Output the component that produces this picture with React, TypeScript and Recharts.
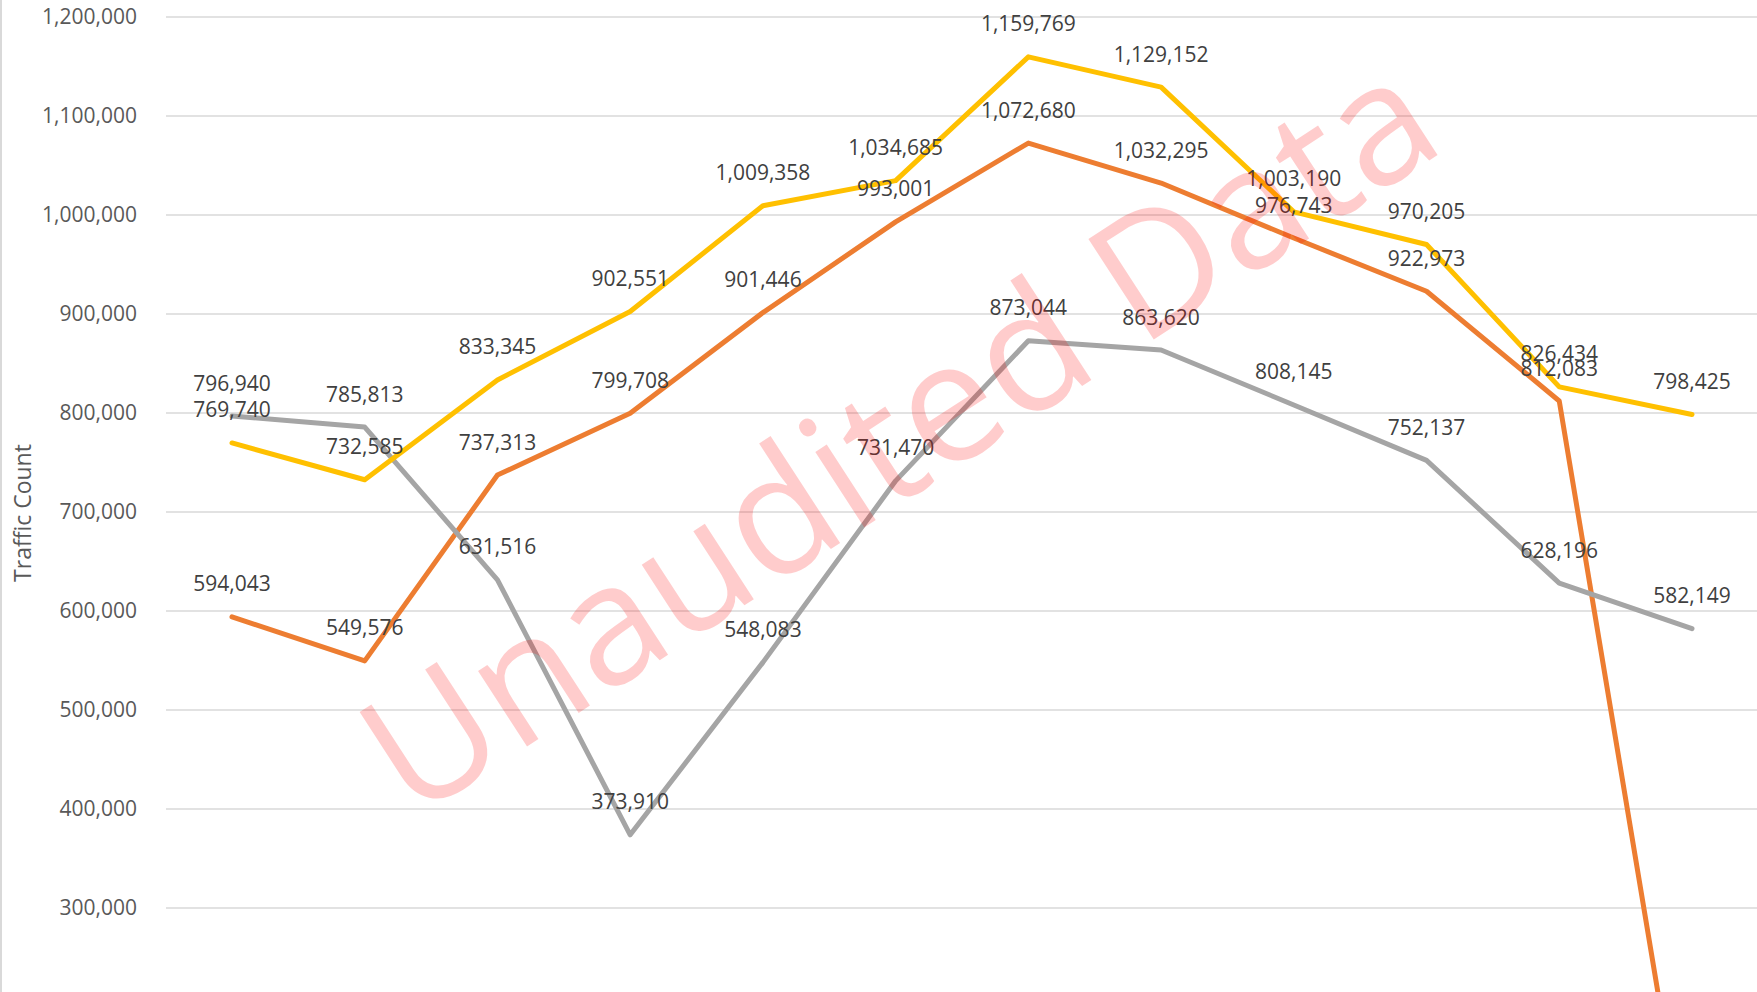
import React from 'react';
import { LineChart, Line, YAxis, XAxis, CartesianGrid } from 'recharts';

// monthly traffic counts, three series (x axis labels are cropped out of the picture)
const months = ['Jan', 'Feb', 'Mar', 'Apr', 'May', 'Jun', 'Jul', 'Aug', 'Sep', 'Oct', 'Nov', 'Dec'];
const yellowSeries = [769740, 732585, 833345, 902551, 1009358, 1034685, 1159769, 1129152, 1003190, 970205, 826434, 798425];
const orangeSeries = [594043, 549576, 737313, 799708, 901446, 993001, 1072680, 1032295, 976743, 922973, 812083, 8300];
const graySeries = [796940, 785813, 631516, 373910, 548083, 731470, 873044, 863620, 808145, 752137, 628196, 582149];
const yTicks = [0, 100000, 200000, 300000, 400000, 500000, 600000, 700000, 800000, 900000, 1000000, 1100000, 1200000];

const data = months.map((m, i) => ({
  month: m,
  yellow: yellowSeries[i],
  orange: orangeSeries[i],
  gray: graySeries[i],
}));

const FONT = '"Open Sans", "Noto Sans", sans-serif';
const fmt = (v: number) => Number(v).toLocaleString('en-US');

const renderLabel = (props: any) => {
  const { x, y, value, index } = props;
  return (
    <text key={index} x={x} y={y - 25.5} textAnchor="middle" fontFamily={FONT} fontSize={21} fill="#404040">
      {fmt(value)}
    </text>
  );
};

const App: React.FC = () => {
  return (
    <div style={{ position: 'absolute', left: 0, top: 0, width: 1757, height: 992, overflow: 'hidden', background: '#fff' }}>
      <LineChart width={1760} height={1215} data={data} margin={{ top: 17, right: 2, left: 0, bottom: 10 }}>
        <CartesianGrid horizontal vertical={false} stroke="#d9d9d9" strokeWidth={1.5} />
        <XAxis dataKey="month" hide padding={{ left: 66, right: 66 }} />
        <YAxis
          width={166}
          domain={[0, 1200000]}
          ticks={yTicks}
          axisLine={false}
          tickLine={false}
          tickSize={6}
          tickMargin={23}
          tickFormatter={fmt}
          tick={{ fontFamily: FONT, fontSize: 21, fill: '#595959' }}
        />
        <Line dataKey="orange" stroke="#ED7D31" strokeWidth={5} dot={false} strokeLinejoin="round" strokeLinecap="round" isAnimationActive={false} />
        <Line dataKey="gray" stroke="#A5A5A5" strokeWidth={5} dot={false} strokeLinejoin="round" strokeLinecap="round" isAnimationActive={false} />
        <Line dataKey="yellow" stroke="#FFC000" strokeWidth={5} dot={false} strokeLinejoin="round" strokeLinecap="round" isAnimationActive={false} />
        {/* data labels drawn last so they sit above every line */}
        <Line dataKey="orange" stroke="none" dot={false} activeDot={false} legendType="none" label={renderLabel} isAnimationActive={false} />
        <Line dataKey="gray" stroke="none" dot={false} activeDot={false} legendType="none" label={renderLabel} isAnimationActive={false} />
        <Line dataKey="yellow" stroke="none" dot={false} activeDot={false} legendType="none" label={renderLabel} isAnimationActive={false} />
      </LineChart>
      <svg width={1757} height={992} style={{ position: 'absolute', left: 0, top: 0, pointerEvents: 'none' }}>
        <rect x={0} y={0} width={2} height={992} fill="#d9d9d9" />
        <text x={31} y={513} transform="rotate(-90 31 513)" textAnchor="middle" fontFamily={FONT} fontSize={23} fill="#595959">
          Traffic Count
        </text>
        <g transform="translate(905,445) rotate(-33)">
          <text x={0} y={47} textAnchor="middle" fontFamily={FONT} fontSize={168} fill="rgba(255,0,0,0.2)">
            Unaudited Data
          </text>
        </g>
      </svg>
    </div>
  );
};

export default App;
